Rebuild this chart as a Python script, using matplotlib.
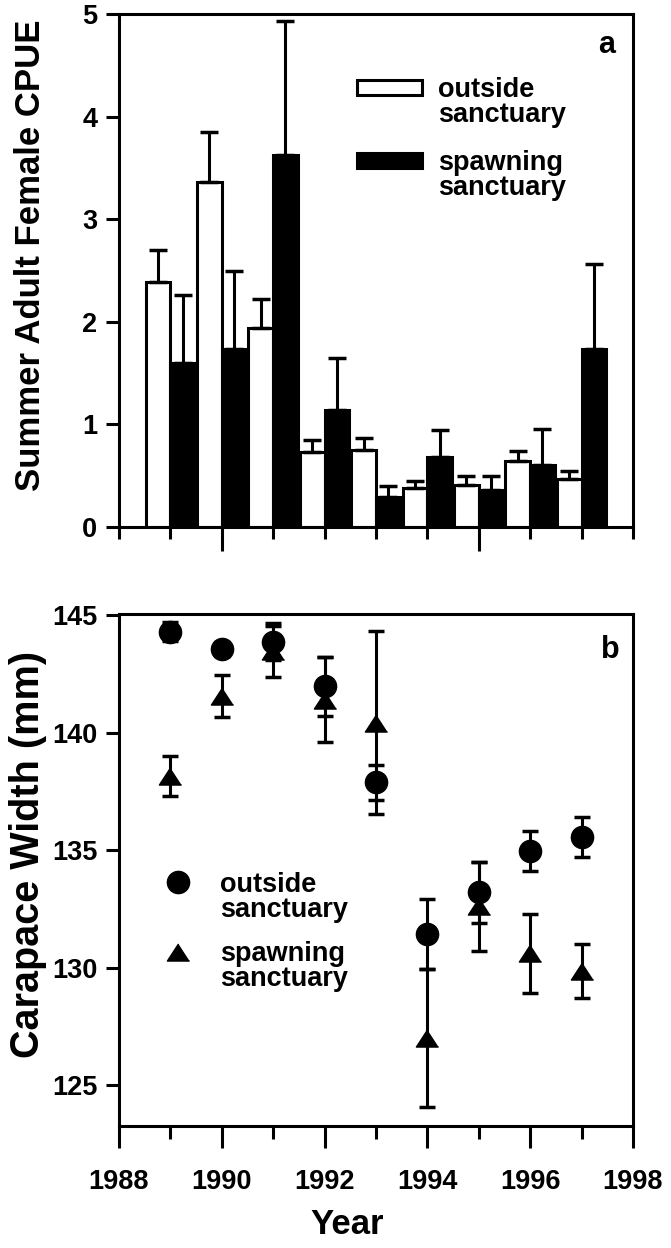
import numpy as np
import matplotlib
matplotlib.use('Agg')
import matplotlib.pyplot as plt
from matplotlib.patches import Patch
from matplotlib.lines import Line2D
from matplotlib.ticker import MultipleLocator, FixedLocator

plt.rcParams['font.family'] = ['Liberation Sans', 'DejaVu Sans']
plt.rcParams['font.weight'] = 'bold'

years = np.array([1989, 1990, 1991, 1992, 1993, 1994, 1995, 1996, 1997])

# panel a - summer adult female CPUE (mean + SE)
cpue_out = [2.39, 3.36, 1.94, 0.73, 0.75, 0.38, 0.41, 0.64, 0.47]
cpue_out_se = [0.31, 0.49, 0.28, 0.115, 0.12, 0.07, 0.09, 0.10, 0.08]
cpue_spawn = [1.60, 1.74, 3.63, 1.14, 0.29, 0.68, 0.36, 0.60, 1.74]
cpue_spawn_se = [0.66, 0.76, 1.30, 0.51, 0.11, 0.27, 0.14, 0.36, 0.82]

# panel b - carapace width (mm)
cw_out = [144.30, 143.56, 143.87, 141.97, 137.89, 131.43, 133.20, 134.97, 135.56]
cw_out_se = [0.40, 0.30, 0.80, 1.25, 0.75, 1.50, 1.30, 0.85, 0.85]
cw_spawn = [138.17, 141.55, 143.45, 141.40, 140.42, 127.00, 132.60, 130.60, 129.84]
cw_spawn_se = [0.85, 0.90, 1.10, 1.80, 3.90, 2.95, 1.90, 1.70, 1.15]

lw = 2.2
fs_tick = 19.5

# flattened triangle like the original figure
tri = [(0, 0.77), (-1, -0.77), (1, -0.77)]

fig = plt.figure(figsize=(6.71, 12.48), dpi=100)
ax1 = fig.add_axes([0.1773, 0.5777, 0.766, 0.411])
ax2 = fig.add_axes([0.1773, 0.0978, 0.766, 0.4103])

# ---- panel a
bw = 0.48
zeros = np.zeros(len(years))
ekw = dict(ecolor='black', elinewidth=lw, capsize=6.7, capthick=2.5)
ax1.bar(years - bw / 2, cpue_out, bw, color='white', edgecolor='black', linewidth=lw,
        yerr=[zeros, cpue_out_se], error_kw=ekw)
ax1.bar(years + bw / 2, cpue_spawn, bw, color='black', edgecolor='black', linewidth=lw,
        yerr=[zeros, cpue_spawn_se], error_kw=ekw)
ax1.set_xlim(1988, 1998)
ax1.set_ylim(0, 5)
ax1.set_ylabel('Summer Adult Female CPUE', fontsize=25, fontweight='bold')
ax1.yaxis.set_label_coords(-0.14, 0.53)
ax1.xaxis.set_major_locator(FixedLocator([1990, 1995]))
ax1.xaxis.set_minor_locator(MultipleLocator(1))
ax1.tick_params(axis='x', which='major', length=17, width=lw, labelbottom=False)
ax1.tick_params(axis='x', which='minor', length=8.5, width=lw)
ax1.set_yticks([0, 1, 2, 3, 4, 5])
ax1.tick_params(axis='y', length=9.5, width=lw, labelsize=fs_tick, pad=6)
ax1.text(0.965, 0.94, 'a', transform=ax1.transAxes, ha='right', va='center',
         fontsize=22, fontweight='bold')

blank = Patch(facecolor='none', edgecolor='none')
lkw = dict(frameon=False, fontsize=fs_tick, loc='upper left', borderpad=0, borderaxespad=0,
           labelspacing=-0.05, handlelength=2.4, handleheight=0.5, handletextpad=0.6)
leg1 = ax1.legend([Patch(facecolor='white', edgecolor='black', linewidth=lw), blank],
                  ['outside', 'sanctuary'], bbox_to_anchor=(0.463, 0.877), **lkw)
ax1.add_artist(leg1)
ax1.legend([Patch(facecolor='black', edgecolor='black', linewidth=lw), blank],
           ['spawning', 'sanctuary'], bbox_to_anchor=(0.463, 0.735), **lkw)

# ---- panel b
ax2.errorbar(years, cw_out, yerr=cw_out_se, fmt='o', color='black', ms=16,
             capsize=5.8, elinewidth=lw, capthick=2.5)
ax2.errorbar(years, cw_spawn, yerr=cw_spawn_se, fmt='none', ecolor='black',
             capsize=5.8, elinewidth=lw, capthick=2.5)
ax2.plot(years, cw_spawn, ls='none', marker=tri, color='black', ms=16)
ax2.set_xlim(1988, 1998)
ax2.set_ylim(123.26, 145.05)
ax2.set_yticks([125, 130, 135, 140, 145])
ax2.xaxis.set_major_locator(MultipleLocator(2))
ax2.xaxis.set_minor_locator(MultipleLocator(1))
ax2.tick_params(axis='x', which='major', length=16, width=lw, labelsize=fs_tick, pad=15)
ax2.tick_params(axis='x', which='minor', length=9.4, width=lw)
ax2.tick_params(axis='y', length=9.5, width=lw, labelsize=fs_tick, pad=6)
ax2.set_xlabel('Year', fontsize=25, fontweight='bold')
ax2.xaxis.set_label_coords(0.444, -0.16)
ax2.set_ylabel('Carapace Width (mm)', fontsize=28.5, fontweight='bold')
ax2.yaxis.set_label_coords(-0.14, 0.53)
ax2.text(0.975, 0.93, 'b', transform=ax2.transAxes, ha='right', va='center',
         fontsize=22, fontweight='bold')

mkw = dict(frameon=False, fontsize=fs_tick, loc='upper left', borderpad=0, borderaxespad=0,
           labelspacing=-0.05, handlelength=1.0, handletextpad=1.05)
leg3 = ax2.legend([Line2D([], [], marker='o', color='black', ls='none', ms=16), blank],
                  ['outside', 'sanctuary'], bbox_to_anchor=(0.0885, 0.496), **mkw)
ax2.add_artist(leg3)
ax2.legend([Line2D([], [], marker=tri, color='black', ls='none', ms=16), blank],
           ['spawning', 'sanctuary'], bbox_to_anchor=(0.0885, 0.361), **mkw)

for ax in (ax1, ax2):
    for s in ax.spines.values():
        s.set_linewidth(lw)
    for t in ax.get_xticklabels() + ax.get_yticklabels():
        t.set_fontweight('bold')

fig.savefig('out.png', dpi=100)
